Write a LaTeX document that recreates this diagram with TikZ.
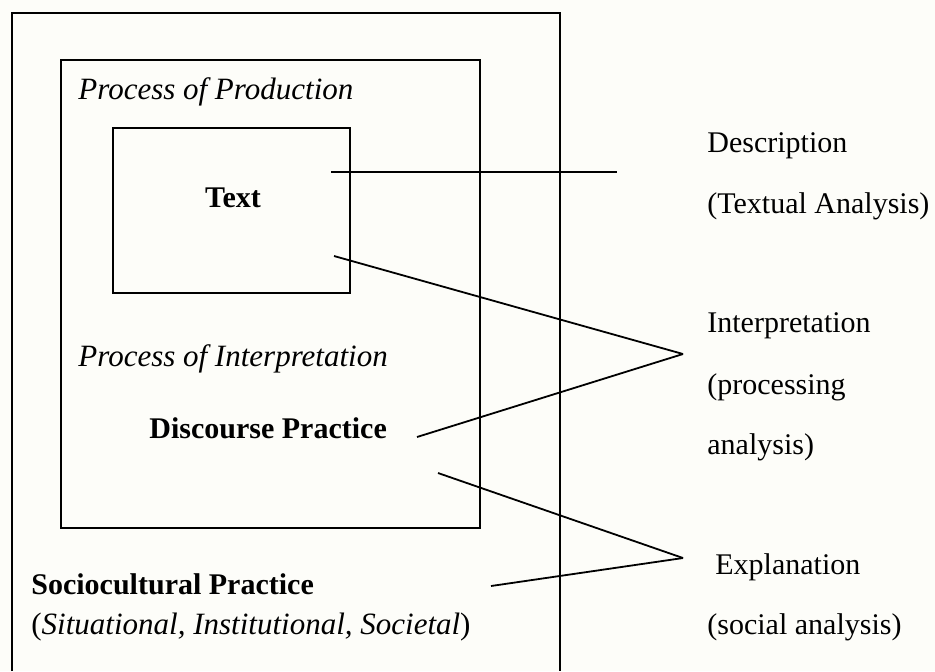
\documentclass[tikz,border=0pt]{standalone}
\usepackage{fontspec}
\setmainfont{Liberation Serif}
\definecolor{paper}{RGB}{253,253,249}
\tikzset{
    frame/.style={line width=1pt},
    link/.style={line width=0.9pt},
    lbl/.style={inner sep=0pt,anchor=west,font=\fontsize{15}{18}\selectfont},
    ital/.style={lbl,font=\fontsize{15.5}{18}\selectfont\itshape}
}
\begin{document}
\begin{tikzpicture}[x=0.5pt,y=-0.5pt]
        \fill[paper] (0,0) rectangle (935,671);
        \useasboundingbox (0,0) rectangle (935,671);
        %% boxes
        \draw[frame] (12,671) -- (12,13) -- (560,13) -- (560,671);
        \draw[frame] (61,60) rectangle (480,528);
        \draw[frame] (113,128) rectangle (350,293);
        %% labels inside
        \node[ital] (prod) at (78,92) {Process of Production};
        \node[lbl,anchor=center] (text) at (233,198) {\textbf{Text}};
        \node[ital] (interp) at (78,359) {Process of Interpretation};
        \node[lbl] (disc) at (149,428) {\textbf{Discourse Practice}};
        \node[lbl] (socio) at (31,584) {\textbf{Sociocultural Practice}};
        \node[lbl,font=\fontsize{15.5}{18}\selectfont] (kinds) at (31,627) {(\textit{Situational, Institutional, Societal})};
        %% labels outside
        \node[lbl] (desc) at (707,146) {Description};
        \node[lbl] (textual) at (707,206) {(Textual Analysis)};
        \node[lbl] (interpr) at (707,326) {Interpretation};
        \node[lbl] (proc) at (707,387) {(processing};
        \node[lbl] (anal) at (707,447) {analysis)};
        \node[lbl] (expl) at (715,567) {Explanation};
        \node[lbl] (social) at (707,627) {(social analysis)};
        %% connectors
        \coordinate (d1) at (331,172);
        \coordinate (d2) at (617,172);
        \coordinate (i1) at (334,256);
        \coordinate (i2) at (417,437);
        \coordinate (ip) at (683,354);
        \coordinate (e1) at (438,473);
        \coordinate (e2) at (491,586);
        \coordinate (ep) at (683,558);
        \draw[link] (d1) -- (d2);
        \foreach \a/\b in {i1/ip,i2/ip,e1/ep,e2/ep} \draw[link] (\a) -- (\b);
    \end{tikzpicture}
\end{document}
